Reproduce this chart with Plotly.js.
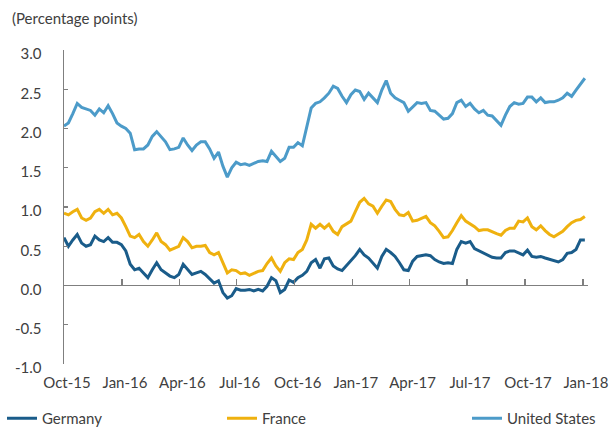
<!DOCTYPE html>
<html>
<head>
<meta charset="utf-8">
<script src="https://cdn.plot.ly/plotly-3.0.1.min.js"></script>
<style>html,body{margin:0;padding:0;background:#fff;}#chart{width:611px;height:429px;}</style>
</head>
<body>
<div id="chart"></div>
<script>
// Weekly observations starting 1 Oct 2015
var startDate = '2015-10-01';
var germany = [0.61,0.50,0.58,0.65,0.54,0.50,0.52,0.63,0.58,0.56,0.61,0.55,0.55,0.52,0.44,0.27,0.20,0.22,0.16,0.10,0.20,0.29,0.20,0.16,0.12,0.10,0.14,0.27,0.20,0.14,
  0.16,0.18,0.14,0.08,0.03,0.06,-0.09,-0.16,-0.13,-0.04,-0.06,-0.06,-0.05,-0.07,-0.05,-0.07,-0.01,0.10,0.06,-0.09,-0.05,0.07,0.04,0.10,0.13,0.18,0.29,0.33,0.22,0.34,
  0.35,0.25,0.21,0.19,0.25,0.31,0.38,0.46,0.39,0.35,0.28,0.22,0.37,0.46,0.42,0.37,0.29,0.20,0.19,0.31,0.37,0.38,0.39,0.38,0.33,0.30,0.28,0.29,0.28,
  0.46,0.56,0.54,0.56,0.47,0.44,0.41,0.38,0.36,0.35,0.35,0.42,0.44,0.44,0.42,0.39,0.45,0.37,0.36,0.37,0.35,0.33,0.32,0.30,0.33,0.41,0.42,0.46,0.58,0.58];
var france = [0.92,0.90,0.94,0.97,0.86,0.83,0.86,0.94,0.97,0.92,0.97,0.90,0.92,0.86,0.75,0.63,0.61,0.65,0.56,0.50,0.58,0.67,0.56,0.52,0.45,0.47,0.50,0.61,0.56,0.48,
  0.50,0.50,0.51,0.42,0.39,0.42,0.29,0.16,0.20,0.19,0.15,0.16,0.13,0.16,0.18,0.19,0.28,0.35,0.25,0.18,0.29,0.34,0.33,0.42,0.46,0.58,0.78,0.73,0.78,0.73,
  0.78,0.69,0.65,0.75,0.78,0.82,0.94,1.06,1.11,1.04,1.01,0.92,1.01,1.09,1.07,0.97,0.90,0.89,0.93,0.82,0.83,0.85,0.88,0.80,0.76,0.69,0.61,0.62,0.70,
  0.80,0.89,0.82,0.79,0.75,0.70,0.71,0.71,0.68,0.66,0.64,0.70,0.73,0.73,0.82,0.81,0.86,0.75,0.71,0.76,0.70,0.65,0.62,0.66,0.69,0.75,0.80,0.83,0.84,0.88];
var unitedStates = [2.03,2.07,2.19,2.32,2.27,2.25,2.23,2.17,2.25,2.20,2.29,2.19,2.07,2.03,2.00,1.94,1.73,1.74,1.74,1.79,1.90,1.96,1.90,1.83,1.73,1.74,1.76,1.88,1.79,1.72,
  1.79,1.83,1.83,1.74,1.62,1.70,1.52,1.38,1.50,1.57,1.54,1.55,1.53,1.56,1.58,1.59,1.58,1.71,1.65,1.58,1.62,1.76,1.76,1.82,1.78,2.02,2.26,2.32,2.34,2.39,
  2.45,2.54,2.51,2.41,2.33,2.43,2.49,2.47,2.37,2.45,2.39,2.33,2.49,2.61,2.45,2.39,2.36,2.33,2.22,2.28,2.33,2.32,2.33,2.23,2.22,2.17,2.12,2.13,2.19,
  2.33,2.36,2.28,2.32,2.25,2.20,2.23,2.17,2.16,2.10,2.04,2.17,2.28,2.33,2.31,2.32,2.40,2.40,2.34,2.39,2.33,2.34,2.34,2.36,2.39,2.45,2.41,2.49,2.56,2.64];
var xTickVals = ['2015-10-01','2016-01-01','2016-04-01','2016-07-01','2016-10-01','2017-01-01','2017-04-01','2017-07-01','2017-10-01','2018-01-01'];
var xTickText = ['Oct-15','Jan-16','Apr-16','Jul-16','Oct-16','Jan-17','Apr-17','Jul-17','Oct-17','Jan-18'];
var yTickVals = [3.0,2.5,2.0,1.5,1.0,0.5,0.0,-0.5,-1.0];
var yTickText = ['3.0','2.5','2.0','1.5','1.0','0.5','0.0','-0.5','-1.0'];

function weeklyDates(start, n) {
  var out = [];
  var d0 = new Date(start + 'T00:00:00Z');
  for (var i = 0; i < n; i++) {
    var d = new Date(d0.getTime() + i * 7 * 86400000);
    out.push(d.toISOString().slice(0, 10));
  }
  return out;
}
var dates = weeklyDates(startDate, unitedStates.length);

var txt = '#404040';
var axc = '#7f7f7f';
var fnt = {family: 'Lato, "Open Sans", sans-serif', size: 15, color: txt};

var traces = [
  {x: dates, y: unitedStates, name: 'United States', type: 'scatter', mode: 'lines', xaxis: 'x', line: {color: '#4c9bc9', width: 3}, legend: 'legend3'},
  {x: dates, y: france, name: 'France', type: 'scatter', mode: 'lines', xaxis: 'x2', line: {color: '#efb10f', width: 3}, legend: 'legend2'},
  {x: dates, y: germany, name: 'Germany', type: 'scatter', mode: 'lines', xaxis: 'x2', line: {color: '#1a5c8a', width: 3}, legend: 'legend'}
];

function leg(xpx) {
  return {orientation: 'h', xref: 'container', yref: 'container', x: xpx / 611, y: 1 - 402 / 429,
          xanchor: 'left', yanchor: 'top', font: fnt, bgcolor: 'rgba(0,0,0,0)', itemwidth: 30, tracegroupgap: 0};
}

var layout = {
  width: 611, height: 429,
  margin: {l: 64, r: 23, t: 50, b: 65, pad: 0},
  paper_bgcolor: '#ffffff', plot_bgcolor: '#ffffff',
  font: fnt,
  title: {text: '(Percentage points)', font: fnt, xref: 'container', yref: 'container', x: 12 / 611, xanchor: 'left', y: 1 - 19 / 429, yanchor: 'middle'},
  showlegend: true,
  legend: leg(2),
  legend2: leg(222),
  legend3: leg(467),
  xaxis: {
    type: 'date', range: ['2015-10-01', '2018-01-09'],
    tickmode: 'array', tickvals: xTickVals, ticktext: xTickText,
    ticks: '', showline: false, showgrid: false, zeroline: false,
    tickfont: fnt, ticklabelstandoff: 8, ticklabelshift: 3
  },
  xaxis2: {
    type: 'date', range: ['2015-10-01', '2018-01-09'], overlaying: 'x', matches: 'x',
    anchor: 'free', position: 0.25, side: 'bottom',
    tickmode: 'array', tickvals: xTickVals,
    ticks: 'inside', ticklen: 7, tickwidth: 1.3, tickcolor: axc,
    showticklabels: false, showline: false, showgrid: false, zeroline: false
  },
  yaxis: {
    range: [-1, 3], tickmode: 'array', tickvals: yTickVals, ticktext: yTickText,
    showline: true, linecolor: axc, linewidth: 1.5, mirror: false,
    ticks: 'inside', ticklen: 4, tickwidth: 1.3, tickcolor: axc,
    showgrid: false, zeroline: true, zerolinecolor: axc, zerolinewidth: 1.5,
    tickfont: fnt, ticklabelstandoff: 18, ticklabelshift: 4
  }
};

Plotly.newPlot('chart', traces, layout, {displayModeBar: false, staticPlot: true});
</script>
</body>
</html>
